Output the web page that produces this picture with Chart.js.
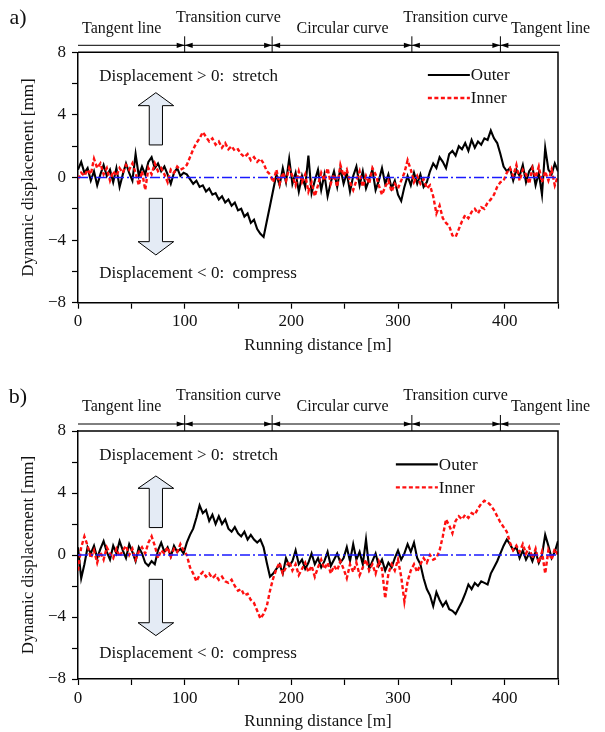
<!DOCTYPE html>
<html>
<head>
<meta charset="utf-8">
<script src="https://cdn.jsdelivr.net/npm/chart.js@4.4.1/dist/chart.umd.min.js"></script>
<style>
  html, body { margin: 0; padding: 0; background: #fff; }
  .panel { position: absolute; left: 0; width: 605px; height: 366px; }
</style>
</head>
<body>
<div class="panel" style="top:0"><canvas id="chartA" width="605" height="366"></canvas></div>
<div class="panel" style="top:366px"><canvas id="chartB" width="605" height="366"></canvas></div>
<script>
// samples every 3 m of running distance
const STEP = 3;
let distance = [];
for (let d = 0; d <= 450; d += STEP) distance.push(d);

// a) outer / inner rail, dynamic displacement [mm]
const aOuter = [
  0.5, 1.0, 0.3, 0.6, -0.2, 0.4, -0.5, 0.2, 0.8, 0.1, 0.5, -0.3, 0.6, -0.6, 0.2, 0.9, 0.3, -0.2, 1.5, 0.1,
  0.7, 0.2, 1.0, 1.3, 0.6, 0.9, 0.4, 0.7, 0.2, -0.4, 0.3, 0.6, 0.1, 0.3,
  0.2, -0.1, -0.4, -0.2, -0.6, -0.5, -0.9, -0.7, -1.1, -1.0, -1.4, -1.2, -1.6, -1.4, -1.8, -1.6, -2.1, -2.0,
  -2.5, -2.3, -2.9, -2.7, -3.3, -3.6, -3.8, -2.8, -1.8, -0.8,
  0.2, -0.5, 0.6, -0.3, 1.2, -0.4, 0.3, -0.9, 0.1, -0.6, 1.4, -1.0, -0.2, 0.5, -0.8, 0.2, -1.2, -0.3, 0.4, -0.6,
  0.6, -0.4, 0.3, -0.9, 0.1, 0.7, -0.5, 0.4, -0.7, -0.1, 0.5, -0.8, -0.2, 0.6, -0.4, 0.2, -0.7, -0.2, -1.1, -1.5,
  -0.6, 0.1, -0.5, 0.3, -0.4,
  0.2, -0.6, -0.3, 0.4, 0.9, 0.6, 1.3, 1.0, 0.6, 1.5, 1.7, 1.4, 2.0, 1.8, 2.2, 1.7, 2.4, 1.9, 2.3, 2.1,
  2.5, 2.4, 3.0, 2.5, 2.2, 1.5,
  0.7, 0.4, 0.6, -0.2, 0.5, 0.1, 0.8, -0.3, 0.4, 0.7, -0.5, 0.3, -1.1, 1.9, 0.5, 0.2, 0.9, 0.4
];
const aInner = [
  -0.1, 0.3, 0.1, 0.5, 0.2, 1.2, 0.6, 0.9, 0.2, 0.6, -0.2, 0.4, 0.1, 0.6, 0.3, 0.8, 0.5, 0.9, 0.3, -0.5,
  0.4, -0.8, 0.6, 0.2, 0.9, 0.4, 0.6, 0.2, -0.3, 0.5, 0.3, 0.7, 0.5, 0.6,
  0.8, 1.3, 1.8, 2.2, 2.5, 2.9, 2.6, 2.3, 2.5, 2.1, 2.3, 1.9, 2.2, 1.8, 2.0, 1.7, 1.8, 1.5, 1.3, 1.5,
  1.1, 1.3, 1.0, 1.2, 0.9, 0.4, 0.2, -0.3,
  0.5, -0.4, 0.3, -0.2, 0.6, 0.1, -0.5, 0.4, -0.3, 0.2, -0.9, -0.3, -1.2, -0.5, 0.3, -0.2, 0.6, -0.4, 0.2, -0.6,
  0.8, 0.1, 0.5, -0.3, -0.8, -0.2, 0.4, -0.6, 0.1, -0.4, 0.6, 0.2, -0.5, -1.1, -0.6, -0.2, -0.9, -0.4, -0.7, -0.2,
  0.3, 1.1, 0.5, -0.3, 0.1,
  -0.4, -0.1, -0.7, -0.5, -1.2, -2.3, -1.8, -2.6, -2.9, -3.1, -3.7, -3.8, -3.3, -2.8, -2.4, -2.6, -2.2, -2.0, -2.3, -1.9,
  -2.0, -1.6, -1.4, -1.1, -0.6, -0.3,
  -0.2, 0.3, 0.6, 0.1, 0.8, -0.2, 0.5, 0.2, -0.4, 0.6, 0.0, 0.7, -0.3, 0.4, -0.2, 0.5, -0.5, 0.1
];

// b) outer / inner rail, dynamic displacement [mm]
const bOuter = [
  0.5, -1.5, -0.6, 0.5, 0.1, 0.6, -0.2, 0.4, 0.9, 0.2, -0.3, 0.6, 0.1, 0.9, 0.3, -0.2, 0.7, 0.2, -0.4, 0.5,
  0.1, -0.5, -0.7, -0.4, -0.6, 0.3, 0.8, 0.2, 0.5, -0.1, 0.6, 0.2, 0.4, 0.1,
  0.8, 1.3, 1.7, 2.4, 3.2, 2.7, 2.9, 2.2, 2.6, 2.0, 2.5, 2.0, 2.3, 1.7, 1.5, 1.8, 1.4, 1.2, 1.5, 1.0,
  1.3, 1.0, 0.8, 1.0, 0.5, -0.5, -1.4, -1.2,
  -0.9, -0.6, -1.2, -0.2, -0.7, -0.4, 0.3, -0.6, -0.3, -0.9, -0.5, 0.1, -0.6, -0.2, -0.8, -0.4, 0.2, -0.7, -0.3, 0.1,
  -0.5, -0.2, 0.5, -0.4, 0.7, -0.3, 0.2, -0.6, 1.0, -0.9, -0.4, 0.1, -0.7, -0.3, -1.0, -0.5, -0.8, -0.2, 0.3, -0.3,
  0.1, 0.7, 0.2, 0.8, -0.2,
  -0.6, -1.5, -2.2, -2.6, -3.3, -2.4, -2.9, -3.3, -3.0, -3.5, -3.6, -3.8, -3.4, -3.0, -2.5, -1.9, -2.2, -1.8, -2.0, -1.7,
  -1.8, -1.9, -1.2, -0.8, -0.4, 0.1,
  0.6, 1.0, 0.7, 0.3, 0.5, -0.2, 0.3, -0.3, 0.1, -0.4, 0.2, -0.5, 0.0, 1.3, 0.6, -0.2, 0.2, 0.9
];
const bInner = [
  -1.0, 0.5, 1.2, 0.6, -0.2, 0.3, -0.5, 0.2, -0.3, 0.5, 0.1, -0.2, 0.4, -0.1, 0.3, 0.6, 0.0, 0.4, -0.3, 0.2,
  0.5, 0.1, 0.8, 1.2, 0.6, -0.2, 0.3, 0.1, 0.5, -0.1, 0.4, 0.2, 0.7, 0.3,
  0.0, -0.8, -1.2, -1.7, -1.3, -1.1, -1.4, -1.2, -1.5, -1.3, -1.6, -1.4, -1.7, -1.8, -1.6, -2.0, -2.3, -2.2, -2.6, -2.5,
  -2.9, -3.1, -3.6, -4.1, -3.8, -3.3, -2.3, -1.5,
  -0.9, -0.5, -1.2, -0.8, -0.4, -1.0, -0.6, -1.3, -0.9, -0.5, -1.1, -0.7, -1.4, -0.8, -0.3, -0.9, -0.5, -1.2, -0.7, -1.0,
  -0.4, -0.9, -1.5, -0.6, -1.1, -0.5, -1.3, -0.8, -0.3, -1.0, -0.6, -1.2, -0.4, -0.9, -2.8, -1.2, -0.6, -1.0, -0.3, -1.4,
  -3.0, -1.7, -1.0, -0.6, -1.1,
  -0.6, -0.2, -0.5, 0.0, -0.3, -0.2, 0.3, 1.2, 2.3, 1.9, 1.4, 2.2, 2.5, 2.3, 2.6, 2.4, 2.7, 2.6, 3.0, 3.3,
  3.5, 3.4, 3.2, 2.9, 2.5, 2.1,
  1.8, 1.5, 0.8, 0.3, 0.6, 0.2, 0.7, 0.1, 0.5, -0.2, 0.4, -0.5, 0.2, -1.2, 0.3, -0.3, 0.4, 0.0
];

// reference line at zero
const zeroX = [0, 450];
const zeroY = [0, 0];

// track sections above the plots
const sectionBounds = [100, 182, 313, 396];
const sectionNames = ['Tangent line', 'Transition curve', 'Circular curve', 'Transition curve', 'Tangent line'];
const sectionLabelAt = [41, 141, 248, 354, 443];
const sectionRaised = [false, true, false, true, false];

const FONT = '"Liberation Serif", "DejaVu Serif", serif';

function toPoints(xs, ys) {
    return xs.map((x, i) => ({x: x, y: ys[i]}));
}

function arrowHead(ctx, x, y, dir) {
    ctx.beginPath();
    ctx.moveTo(x, y);
    ctx.lineTo(x - dir * 8, y - 2.6);
    ctx.lineTo(x - dir * 8, y + 2.6);
    ctx.closePath();
    ctx.fill();
}

// block arrow, tip/base/end given in axis units
function blockArrow(chart, a) {
    let ctx = chart.ctx, xs = chart.scales.x, ys = chart.scales.y;
    let cx = xs.getPixelForValue(a.x);
    let hw = xs.getPixelForValue(a.x + a.headHalf) - cx;
    let sw = xs.getPixelForValue(a.x + a.shaftHalf) - cx;
    let tip = ys.getPixelForValue(a.tip), base = ys.getPixelForValue(a.base), end = ys.getPixelForValue(a.end);
    ctx.beginPath();
    ctx.moveTo(cx, tip);
    ctx.lineTo(cx + hw, base);
    ctx.lineTo(cx + sw, base);
    ctx.lineTo(cx + sw, end);
    ctx.lineTo(cx - sw, end);
    ctx.lineTo(cx - sw, base);
    ctx.lineTo(cx - hw, base);
    ctx.closePath();
    ctx.fillStyle = '#e4ebf5';
    ctx.fill();
    ctx.strokeStyle = '#000';
    ctx.lineWidth = 1;
    ctx.stroke();
}

const panelDecor = {
    id: 'panelDecor',
    afterDraw(chart, args, opts) {
        let ctx = chart.ctx;
        let area = chart.chartArea;
        let xs = chart.scales.x, ys = chart.scales.y;
        ctx.save();

        // close the frame
        ctx.strokeStyle = '#000';
        ctx.lineWidth = 1.5;
        ctx.beginPath();
        ctx.moveTo(area.left, area.top);
        ctx.lineTo(area.right, area.top);
        ctx.lineTo(area.right, area.bottom);
        ctx.stroke();

        // section bar
        let lineY = area.top - 7;
        ctx.lineWidth = 1;
        ctx.fillStyle = '#000';
        ctx.beginPath();
        ctx.moveTo(area.left, lineY);
        ctx.lineTo(area.right + 2, lineY);
        ctx.stroke();
        sectionBounds.forEach(b => {
            let px = xs.getPixelForValue(b);
            ctx.beginPath();
            ctx.moveTo(px, area.top - 16);
            ctx.lineTo(px, area.top);
            ctx.stroke();
            arrowHead(ctx, px, lineY, 1);
            arrowHead(ctx, px, lineY, -1);
        });
        ctx.font = '16px ' + FONT;
        ctx.fillStyle = '#111';
        ctx.textAlign = 'center';
        ctx.textBaseline = 'middle';
        sectionNames.forEach((name, i) => {
            let y = sectionRaised[i] ? area.top - 35 : area.top - 24;
            ctx.fillText(name, xs.getPixelForValue(sectionLabelAt[i]), y);
        });

        // panel letter
        ctx.font = '22px ' + FONT;
        ctx.fillText(opts.letter, 18, area.top - 34);

        // stretch / compress notes
        ctx.font = '17px ' + FONT;
        ctx.textAlign = 'left';
        ctx.fillText('Displacement > 0:  stretch', xs.getPixelForValue(20), ys.getPixelForValue(opts.stretchY));
        ctx.fillText('Displacement < 0:  compress', xs.getPixelForValue(20), ys.getPixelForValue(opts.compressY));
        blockArrow(chart, opts.upArrow);
        blockArrow(chart, opts.downArrow);

        // legend
        let lx = xs.getPixelForValue(opts.legendX);
        let ly = ys.getPixelForValue(opts.legendY);
        [0, 1].forEach(i => {
            let ds = chart.data.datasets[i];
            let y = ly + i * 23;
            ctx.strokeStyle = ds.borderColor;
            ctx.lineWidth = ds.borderWidth;
            ctx.setLineDash(ds.borderDash || []);
            ctx.beginPath();
            ctx.moveTo(lx, y);
            ctx.lineTo(lx + 42, y);
            ctx.stroke();
            ctx.setLineDash([]);
            ctx.fillStyle = '#111';
            ctx.font = '17px ' + FONT;
            ctx.fillText(ds.label, lx + 43, y + 1);
        });
        ctx.restore();
    }
};

function makeChart(canvasId, outer, inner, cfg) {
    let tickFont = {family: FONT, size: 17};
    return new Chart(document.getElementById(canvasId), {
        type: 'line',
        data: {
            datasets: [
                {label: 'Outer', data: toPoints(distance, outer), borderColor: '#000', borderWidth: 2.1, order: 2},
                {label: 'Inner', data: toPoints(distance, inner), borderColor: '#ff1010', borderWidth: 2.4, borderDash: [4, 2.5], order: 1},
                {label: 'zero', data: toPoints(zeroX, zeroY), borderColor: '#1a1aff', borderWidth: 1.5, borderDash: [10, 3, 2, 3], order: 0}
            ]
        },
        options: {
            responsive: false,
            animation: false,
            events: [],
            layout: {padding: {top: cfg.top, right: 47, left: 0, bottom: 0}},
            elements: {point: {radius: 0}, line: {tension: 0, fill: false}},
            plugins: {
                legend: {display: false},
                tooltip: {enabled: false},
                panelDecor: cfg
            },
            scales: {
                x: {
                    type: 'linear', min: 0, max: 450,
                    afterFit: s => { s.height = cfg.xHeight; },
                    ticks: {stepSize: 50, autoSkip: false, maxRotation: 0, color: '#111', font: tickFont, padding: 3,
                        callback: v => (v % 100 === 0 ? String(v) : '')},
                    grid: {display: true, drawOnChartArea: false, tickLength: 6, tickColor: '#000', tickWidth: 1.2},
                    border: {display: true, color: '#000', width: 1.5},
                    title: {display: true, text: 'Running distance [m]', color: '#111', font: tickFont,
                        padding: {top: 0, bottom: cfg.xTitlePad}}
                },
                y: {
                    min: -8, max: 8,
                    afterFit: s => { s.width = 78; },
                    ticks: {stepSize: 2, autoSkip: false, color: '#111', font: tickFont, padding: 6,
                        callback: v => (v % 4 === 0 ? (v < 0 ? '\u2212' + Math.abs(v) : String(v)) : '')},
                    grid: {display: true, drawOnChartArea: false, tickLength: 6, tickColor: '#000', tickWidth: 1.2},
                    border: {display: true, color: '#000', width: 1.5},
                    title: {display: true, text: 'Dynamic displacement [mm]', color: '#111', font: tickFont,
                        padding: {top: 18, bottom: 0}}
                }
            }
        },
        plugins: [panelDecor]
    });
}

makeChart('chartA', aOuter, aInner, {
    letter: 'a)', top: 52.3, xHeight: 63.3, xTitlePad: 10,
    stretchY: 6.44, compressY: -6.12,
    upArrow: {x: 73, headHalf: 16.7, shaftHalf: 6.2, tip: 5.42, base: 4.59, end: 2.08},
    downArrow: {x: 73, headHalf: 16.7, shaftHalf: 6.2, tip: -4.95, base: -4.1, end: -1.33},
    legendX: 328, legendY: 6.55
});

makeChart('chartB', bOuter, bInner, {
    letter: 'b)', top: 65, xHeight: 53, xTitlePad: 0,
    stretchY: 6.39, compressY: -6.34,
    upArrow: {x: 73, headHalf: 16.7, shaftHalf: 6.2, tip: 5.1, base: 4.3, end: 1.77},
    downArrow: {x: 73, headHalf: 16.7, shaftHalf: 6.2, tip: -5.2, base: -4.37, end: -1.57},
    legendX: 298, legendY: 5.85
});
</script>
</body>
</html>
